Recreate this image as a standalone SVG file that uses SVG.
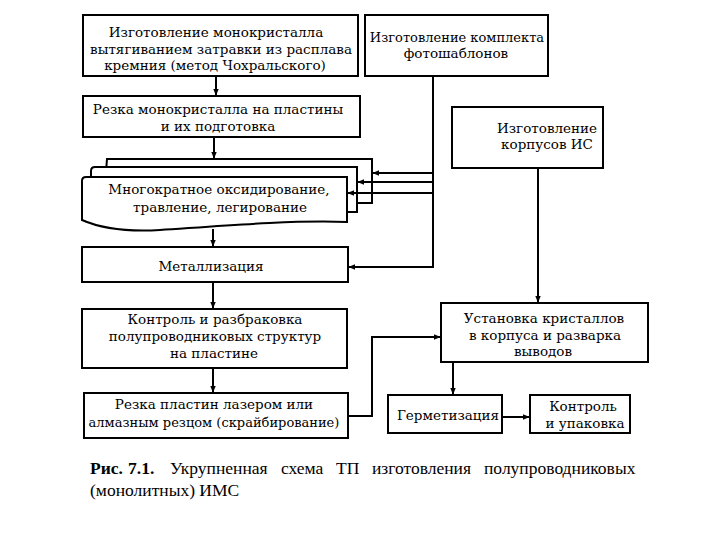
<svg xmlns="http://www.w3.org/2000/svg" width="720" height="540" viewBox="0 0 720 540">
<style>
.box{fill:#fff;stroke:#000;stroke-width:2}
.t{font-family:"DejaVu Serif","Liberation Serif",serif;font-size:13.5px;text-anchor:middle;fill:#000}
.ln{fill:none;stroke:#000;stroke-width:2}
.cap{font-family:"Liberation Serif","Times New Roman",serif;font-size:17.5px;fill:#000}
</style>
<defs>
<marker id="ar" viewBox="0 0 10 10" refX="9" refY="5" markerWidth="7" markerHeight="7" markerUnits="userSpaceOnUse" orient="auto">
<path d="M0,1 L10,5 L0,9 Z" fill="#000"/>
</marker>
</defs>
<rect width="720" height="540" fill="#fff"/>

<g id="n1"><rect class="box" x="83" y="15" width="275" height="61"/>
<text class="t" x="216" y="37">Изготовление монокристалла</text>
<text class="t" x="221" y="54">вытягиванием затравки из расплава</text>
<text class="t" x="215" y="70">кремния (метод Чохральского)</text></g>

<g id="n2"><rect class="box" x="365" y="15" width="183" height="61"/>
<text class="t" x="457" y="42" style="font-size:13px">Изготовление комплекта</text>
<text class="t" x="456" y="58">фотошаблонов</text></g>

<g id="n3"><rect class="box" x="83" y="96" width="277" height="41"/>
<text class="t" x="218" y="114">Резка монокристалла на пластины</text>
<text class="t" x="218" y="131">и их подготовка</text></g>

<g id="n4"><rect class="box" x="452" y="107" width="151" height="61"/>
<text class="t" x="547" y="133">Изготовление</text>
<text class="t" x="547" y="149">корпусов ИС</text></g>

<g id="n5">
<path class="box" d="M107,159 H372 V203 H350 V210 H103 Z"/>
<path class="box" d="M95,167 H357 V212 H347 V218 H91 V171 Q91,167 95,167 Z"/>
<path class="box" d="M86,177 H347 V222 C290,220 220,226 160,230 C125,232 100,228 82,220 V181 Q82,177 86,177 Z"/>
<text class="t" x="219" y="194">Многократное оксидирование,</text>
<text class="t" x="220" y="212">травление, легирование</text></g>

<g id="n6"><rect class="box" x="82" y="247" width="266" height="35"/>
<text class="t" x="211" y="271">Металлизация</text></g>

<g id="n7"><rect class="box" x="82" y="309" width="265" height="59"/>
<text class="t" x="215" y="324">Контроль и разбраковка</text>
<text class="t" x="215" y="341">полупроводниковых структур</text>
<text class="t" x="214" y="358">на пластине</text></g>

<g id="n8"><rect class="box" x="84" y="393" width="264" height="45"/>
<text class="t" x="214" y="409">Резка пластин лазером или</text>
<text class="t" x="214" y="427" style="font-size:13px">алмазным резцом (скрайбирование)</text></g>

<g id="n9"><rect class="box" x="441" y="303" width="207" height="59"/>
<text class="t" x="544" y="323">Установка кристаллов</text>
<text class="t" x="545" y="340">в корпуса и разварка</text>
<text class="t" x="543" y="356">выводов</text></g>

<g id="n10"><rect class="box" x="388" y="395" width="114" height="38"/>
<text class="t" x="448" y="420">Герметизация</text></g>

<g id="n11"><rect class="box" x="530" y="395" width="100" height="38"/>
<text class="t" x="583" y="411">Контроль</text>
<text class="t" x="585" y="428">и упаковка</text></g>

<g id="connectors">
<line class="ln" x1="216" y1="76" x2="216" y2="95" marker-end="url(#ar)"/>
<line class="ln" x1="214" y1="137" x2="214" y2="158" marker-end="url(#ar)"/>
<line class="ln" x1="213" y1="229" x2="213" y2="246" marker-end="url(#ar)"/>
<line class="ln" x1="213" y1="282" x2="213" y2="308" marker-end="url(#ar)"/>
<line class="ln" x1="213" y1="368" x2="213" y2="392" marker-end="url(#ar)"/>
<line class="ln" x1="433" y1="76" x2="433" y2="268"/>
<line class="ln" x1="433" y1="173" x2="373" y2="173" marker-end="url(#ar)"/>
<line class="ln" x1="433" y1="182" x2="358" y2="182" marker-end="url(#ar)"/>
<line class="ln" x1="433" y1="193" x2="348" y2="193" marker-end="url(#ar)"/>
<polyline class="ln" points="433,267 349,267" marker-end="url(#ar)"/>
<line class="ln" x1="538" y1="168" x2="538" y2="302" marker-end="url(#ar)"/>
<polyline class="ln" points="348,416 372,416 372,337 440,337" marker-end="url(#ar)"/>
<line class="ln" x1="453" y1="362" x2="453" y2="394" marker-end="url(#ar)"/>
<line class="ln" x1="502" y1="417" x2="529" y2="417" marker-end="url(#ar)"/>
</g>

<text class="cap" y="474"><tspan x="90" font-weight="bold">Рис.</tspan><tspan x="128" font-weight="bold">7.1.</tspan><tspan x="170">Укрупненная</tspan><tspan x="281">схема</tspan><tspan x="336">ТП</tspan><tspan x="372">изготовления</tspan><tspan x="484">полупроводниковых</tspan></text>
<text class="cap" x="90" y="496">(монолитных) ИМС</text>
</svg>
